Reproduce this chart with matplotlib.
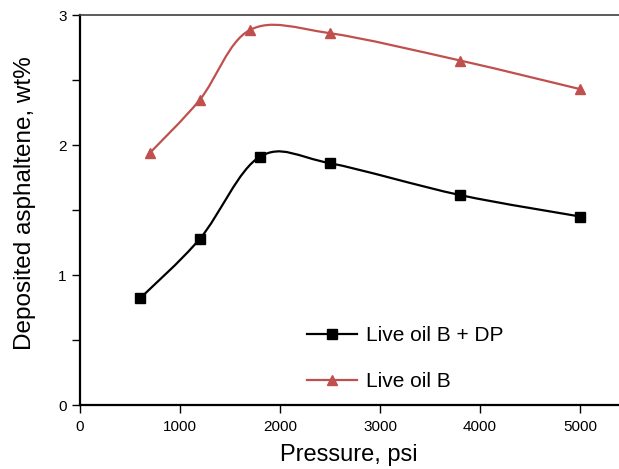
import numpy as np
import matplotlib.pyplot as plt
from matplotlib.path import Path
from matplotlib.patches import PathPatch
from matplotlib.lines import Line2D

plt.rcParams['font.family'] = ['Liberation Sans', 'DejaVu Sans']

pressure_dp = [600, 1200, 1800, 2500, 3800, 5000]
asph_dp = [0.82, 1.28, 1.91, 1.86, 1.615, 1.45]
pressure_b = [700, 1200, 1700, 2500, 3800, 5000]
asph_b = [1.94, 2.35, 2.885, 2.86, 2.65, 2.43]

red = '#C0504D'


def smooth_path(x, y):
    # Excel-style smoothed line: cubic Bezier segments through the points
    p = np.column_stack([x, y]).astype(float)
    n = len(p)
    verts = [p[0]]
    codes = [Path.MOVETO]
    for i in range(n - 1):
        p0 = p[i - 1] if i > 0 else p[i]
        p3 = p[i + 2] if i + 2 < n else p[i + 1]
        c1 = p[i] + (p[i + 1] - p0) / 6
        c2 = p[i + 1] - (p3 - p[i]) / 6
        verts += [c1, c2, p[i + 1]]
        codes += [Path.CURVE4] * 3
    return Path(verts, codes)


fig = plt.figure(figsize=(6.19, 4.69), dpi=100)
ax = fig.add_axes([80 / 619, 64 / 469, 550 / 619, 390 / 469])

ax.add_patch(PathPatch(smooth_path(pressure_dp, asph_dp), fc='none', ec='black', lw=1.6))
ax.add_patch(PathPatch(smooth_path(pressure_b, asph_b), fc='none', ec=red, lw=1.6))
ax.plot(pressure_dp, asph_dp, ls='none', marker='s', ms=7, color='black')
ax.plot(pressure_b, asph_b, ls='none', marker='^', ms=6.5, color=red)

ax.set_xlim(0, 5500)
ax.set_ylim(0, 3)
ax.set_xticks(np.arange(0, 5001, 1000))
ax.set_yticks([0, 1, 2, 3])
ax.set_yticks(np.arange(0, 3.01, 0.5), minor=True)
ax.tick_params(axis='both', which='both', direction='out', labelsize=11, width=1, color='black')
ax.tick_params(axis='both', which='major', length=6)
ax.tick_params(axis='y', which='minor', length=6)
ax.tick_params(axis='x', pad=5)
ax.spines['right'].set_visible(False)
ax.spines['left'].set_linewidth(1.6)
ax.spines['bottom'].set_linewidth(1.6)
ax.spines['top'].set_linewidth(1.2)
ax.spines['top'].set_color('#404040')

ax.set_xlabel('Pressure, psi', fontsize=17, labelpad=7)
ax.set_ylabel('Deposited asphaltene, wt%', fontsize=17.5, labelpad=16)
ax.xaxis.label.set_x(0.489)
ax.yaxis.label.set_y(0.518)

handles = [
    Line2D([], [], color='black', lw=1.6, marker='s', ms=7),
    Line2D([], [], color=red, lw=1.6, marker='^', ms=6.5),
]
ax.legend(handles, ['Live oil B + DP', 'Live oil B'], loc='upper left',
          bbox_to_anchor=(0.379, 0.25), frameon=False, fontsize=15,
          handlelength=2.4, labelspacing=1.3, handletextpad=0.4)

fig.savefig('out.png', dpi=100)
